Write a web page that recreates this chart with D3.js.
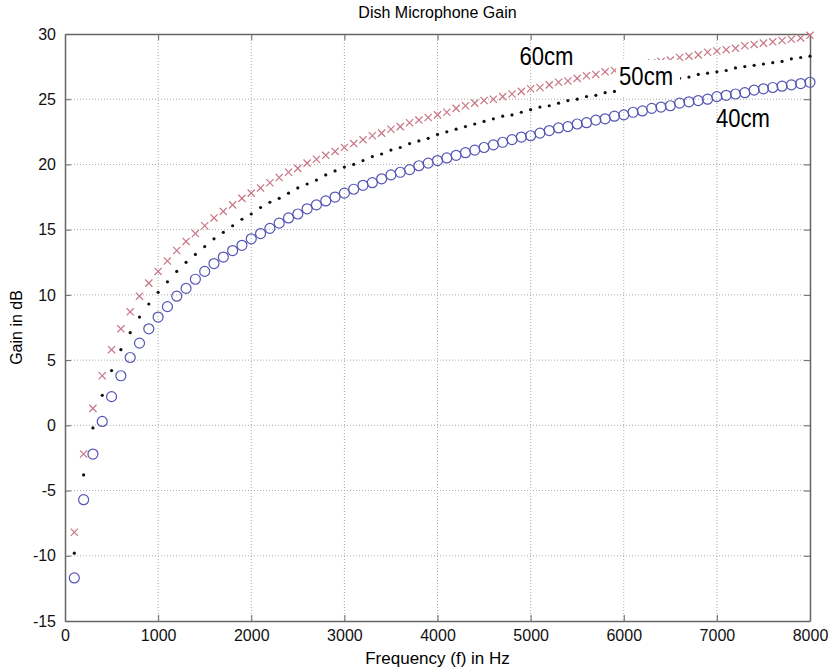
<!DOCTYPE html>
<html>
<head>
<meta charset="utf-8">
<script src="https://cdn.jsdelivr.net/npm/d3@7"></script>
<style>
  body { margin: 0; background: #fff; }
  .tick text { font-family: "Liberation Sans", Arial, sans-serif; font-size: 16px; fill: #111; }
  .grid line { stroke: #aaa; stroke-dasharray: 1,2; }
</style>
</head>
<body>
<script>
// frequencies 100..8000 Hz, step 100
var freqs = [100,200,300,400,500,600,700,800,900,1000,1100,1200,1300,1400,1500,1600,1700,1800,1900,2000,
  2100,2200,2300,2400,2500,2600,2700,2800,2900,3000,3100,3200,3300,3400,3500,3600,3700,3800,3900,4000,
  4100,4200,4300,4400,4500,4600,4700,4800,4900,5000,5100,5200,5300,5400,5500,5600,5700,5800,5900,6000,
  6100,6200,6300,6400,6500,6600,6700,6800,6900,7000,7100,7200,7300,7400,7500,7600,7700,7800,7900,8000];

var gain40 = [-11.7,-5.7,-2.2,0.3,2.2,3.8,5.2,6.3,7.4,8.3,9.1,9.9,10.5,11.2,11.8,12.4,12.9,13.4,13.8,14.3,
  14.7,15.1,15.5,15.9,16.2,16.6,16.9,17.2,17.5,17.8,18.1,18.4,18.6,18.9,19.2,19.4,19.6,19.9,20.1,20.3,
  20.5,20.7,20.9,21.1,21.3,21.5,21.7,21.9,22.1,22.2,22.4,22.6,22.8,22.9,23.1,23.2,23.4,23.5,23.7,23.8,
  24.0,24.1,24.3,24.4,24.5,24.7,24.8,24.9,25.0,25.2,25.3,25.4,25.5,25.7,25.8,25.9,26.0,26.1,26.2,26.3];

var gain50 = [-9.8,-3.8,-0.2,2.3,4.2,5.8,7.1,8.3,9.3,10.2,11.0,11.8,12.5,13.1,13.7,14.3,14.8,15.3,15.8,16.2,
  16.7,17.1,17.4,17.8,18.2,18.5,18.8,19.2,19.5,19.8,20.0,20.3,20.6,20.8,21.1,21.3,21.6,21.8,22.0,22.3,
  22.5,22.7,22.9,23.1,23.3,23.5,23.7,23.8,24.0,24.2,24.4,24.5,24.7,24.9,25.0,25.2,25.3,25.5,25.6,25.8,
  25.9,26.1,26.2,26.3,26.5,26.6,26.7,26.9,27.0,27.1,27.2,27.4,27.5,27.6,27.7,27.8,27.9,28.1,28.2,28.3];

var gain60 = [-8.2,-2.2,1.3,3.8,5.8,7.4,8.7,9.9,10.9,11.8,12.6,13.4,14.1,14.7,15.3,15.9,16.4,16.9,17.4,17.8,
  18.2,18.6,19.0,19.4,19.7,20.1,20.4,20.7,21.0,21.3,21.6,21.9,22.2,22.4,22.7,22.9,23.2,23.4,23.6,23.8,
  24.0,24.3,24.5,24.7,24.9,25.0,25.2,25.4,25.6,25.8,25.9,26.1,26.3,26.4,26.6,26.8,26.9,27.1,27.2,27.4,
  27.5,27.6,27.8,27.9,28.0,28.2,28.3,28.4,28.6,28.7,28.8,28.9,29.1,29.2,29.3,29.4,29.5,29.6,29.7,29.9];

var xTicks = [0,1000,2000,3000,4000,5000,6000,7000,8000];
var yTicks = [-15,-10,-5,0,5,10,15,20,25,30];

var labels = [
  {text: "60cm", f: 4880, g: 27.6, box: false},
  {text: "50cm", f: 5950, g: 26.1, box: true},
  {text: "40cm", f: 6990, g: 22.9, box: false}
];

var margin = {top: 34, right: 20, bottom: 49, left: 65},
  width = 830 - margin.left - margin.right,
  height = 670 - margin.top - margin.bottom;

var x = d3.scaleLinear().domain([0, 8000]).range([0, width]);
var y = d3.scaleLinear().domain([-15, 30]).range([height, 0]);

var svg = d3.select("body").append("svg")
  .attr("width", 830)
  .attr("height", 670)
  .append("g")
  .attr("transform", "translate(" + margin.left + "," + margin.top + ")");

// dotted grid
svg.append("g").attr("class", "grid")
  .selectAll("line").data(xTicks.slice(1, -1)).enter().append("line")
  .attr("x1", d => x(d)).attr("x2", d => x(d))
  .attr("y1", 0).attr("y2", height);
svg.append("g").attr("class", "grid")
  .selectAll("line").data(yTicks.slice(1, -1)).enter().append("line")
  .attr("x1", 0).attr("x2", width)
  .attr("y1", d => y(d)).attr("y2", d => y(d));

// axes, ticks pointing inward like matlab
function styleAxis(g) {
  g.select(".domain").attr("stroke", "#666").attr("stroke-width", 1.5);
  g.selectAll(".tick line").attr("stroke", "#666");
}
var plain = d => String(d);
svg.append("g")
  .attr("transform", "translate(0," + height + ")")
  .call(d3.axisBottom(x).tickValues(xTicks).tickSizeInner(-6).tickSizeOuter(0).tickPadding(9).tickFormat(plain))
  .call(styleAxis);
svg.append("g")
  .call(d3.axisTop(x).tickValues(xTicks).tickSizeInner(-6).tickSizeOuter(0).tickFormat(""))
  .call(styleAxis);
svg.append("g")
  .call(d3.axisLeft(y).tickValues(yTicks).tickSizeInner(-6).tickSizeOuter(0).tickPadding(9).tickFormat(plain))
  .call(styleAxis);
svg.append("g")
  .attr("transform", "translate(" + width + ",0)")
  .call(d3.axisRight(y).tickValues(yTicks).tickSizeInner(-6).tickSizeOuter(0).tickFormat(""))
  .call(styleAxis);

// 60cm: x markers
var xs = 3.6;
svg.append("g").selectAll("path").data(freqs).enter().append("path")
  .attr("d", function(d, i) {
    var cx = x(d), cy = y(gain60[i]);
    return "M" + (cx - xs) + "," + (cy - xs) + "L" + (cx + xs) + "," + (cy + xs) +
      "M" + (cx - xs) + "," + (cy + xs) + "L" + (cx + xs) + "," + (cy - xs);
  })
  .attr("stroke", "#c87585")
  .attr("stroke-width", 1.2)
  .attr("fill", "none");

// 50cm: dots
svg.append("g").selectAll("circle").data(freqs).enter().append("circle")
  .attr("cx", d => x(d))
  .attr("cy", (d, i) => y(gain50[i]))
  .attr("r", 1.6)
  .attr("fill", "#111");

// 40cm: circles
svg.append("g").selectAll("circle").data(freqs).enter().append("circle")
  .attr("cx", d => x(d))
  .attr("cy", (d, i) => y(gain40[i]))
  .attr("r", 5)
  .attr("fill", "none")
  .attr("stroke", "#5555b5")
  .attr("stroke-width", 1.2);

// curve labels (narrow face, squeezed to fit)
labels.forEach(function(l) {
  var t = svg.append("text")
    .attr("x", x(l.f))
    .attr("y", y(l.g))
    .attr("textLength", 54)
    .attr("lengthAdjust", "spacingAndGlyphs")
    .style("font-family", "'Liberation Sans', Arial, sans-serif")
    .style("font-size", "25px")
    .attr("fill", "#000")
    .text(l.text);
  if (l.box) {
    var b = t.node().getBBox();
    svg.insert("rect", function() { return t.node(); })
      .attr("x", b.x - 3).attr("y", b.y - 2)
      .attr("width", b.width + 10).attr("height", b.height + 8)
      .attr("fill", "#fff");
  }
});

// titles
var root = d3.select("svg");
root.append("text")
  .attr("x", margin.left + width / 2).attr("y", 18)
  .attr("text-anchor", "middle")
  .style("font-family", "'Liberation Sans', Arial, sans-serif")
  .style("font-size", "16px")
  .text("Dish Microphone Gain");
root.append("text")
  .attr("x", margin.left + width / 2).attr("y", 664)
  .attr("text-anchor", "middle")
  .style("font-family", "'Liberation Sans', Arial, sans-serif")
  .style("font-size", "17px")
  .text("Frequency (f) in Hz");
root.append("text")
  .attr("transform", "translate(22," + (margin.top + height / 2) + ") rotate(-90)")
  .attr("text-anchor", "middle")
  .style("font-family", "'Liberation Sans', Arial, sans-serif")
  .style("font-size", "16px")
  .text("Gain in dB");
</script>
</body>
</html>
